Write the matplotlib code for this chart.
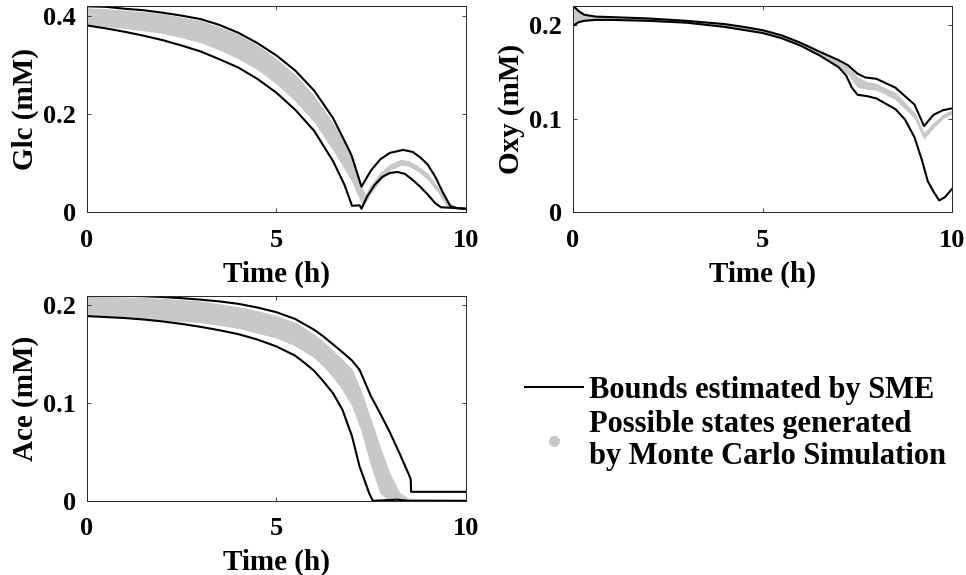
import matplotlib
matplotlib.use("Agg")
import matplotlib.pyplot as plt
from matplotlib.lines import Line2D

plt.rcParams['font.family'] = ['Liberation Serif', 'DejaVu Serif']
plt.rcParams['font.weight'] = 'bold'
plt.rcParams['axes.labelweight'] = 'bold'

# ---- Glc ----
glc_up_t = [0, 0.5, 1, 1.5, 2, 2.5, 3, 3.5, 4, 4.5, 5, 5.5, 6, 6.5, 6.94, 7.0, 7.25, 7.5, 7.75, 8.0, 8.35, 8.6, 8.8, 9.0, 9.2, 9.4, 9.6, 9.8, 10]
glc_up = [0.420, 0.419, 0.415, 0.412, 0.407, 0.401, 0.394, 0.382, 0.366, 0.345, 0.320, 0.289, 0.248, 0.192, 0.124, 0.113, 0.052, 0.085, 0.108, 0.121, 0.127, 0.123, 0.112, 0.097, 0.072, 0.040, 0.012, 0.008, 0.007]
glc_lo_t = [0, 0.5, 1, 1.5, 2, 2.5, 3, 3.5, 4, 4.5, 5, 5.5, 6, 6.5, 6.8, 7.0, 7.2, 7.25, 7.4, 7.6, 7.8, 8.0, 8.2, 8.4, 8.6, 8.8, 9.0, 9.2, 9.35, 9.6, 10]
glc_lo = [0.381, 0.375, 0.368, 0.360, 0.351, 0.340, 0.328, 0.312, 0.295, 0.272, 0.244, 0.209, 0.166, 0.104, 0.056, 0.013, 0.014, 0.007, 0.032, 0.056, 0.072, 0.080, 0.082, 0.078, 0.066, 0.052, 0.036, 0.018, 0.010, 0.009, 0.007]
glc_mc_t = [0, 0.5, 1, 1.5, 2, 2.5, 3, 3.5, 4, 4.5, 5, 5.5, 6, 6.5, 7.0, 7.25, 7.35, 7.5, 7.75, 8.0, 8.3, 8.5, 8.75, 9.0, 9.25, 9.5, 9.75, 10]
glc_mc_lo = [0.384, 0.380, 0.376, 0.371, 0.366, 0.357, 0.347, 0.332, 0.314, 0.292, 0.263, 0.228, 0.185, 0.128, 0.064, 0.020, 0.020, 0.040, 0.066, 0.087, 0.097, 0.095, 0.084, 0.068, 0.044, 0.014, 0.008, 0.007]
glc_mc_hi = [0.416, 0.414, 0.411, 0.408, 0.404, 0.397, 0.390, 0.377, 0.362, 0.340, 0.312, 0.280, 0.236, 0.180, 0.112, 0.050, 0.035, 0.055, 0.080, 0.097, 0.107, 0.104, 0.093, 0.078, 0.052, 0.022, 0.010, 0.008]

# ---- Oxy ----
oxy_up_t = [0, 0.15, 0.3, 0.6, 1, 2, 3, 4, 4.5, 5, 5.5, 6, 6.5, 7, 7.25, 7.5, 7.7, 8, 8.5, 9, 9.25, 9.5, 9.75, 10]
oxy_up = [0.221, 0.215, 0.211, 0.209, 0.2085, 0.207, 0.2045, 0.201, 0.198, 0.1945, 0.189, 0.181, 0.1715, 0.1625, 0.157, 0.148, 0.144, 0.1425, 0.133, 0.115, 0.092, 0.104, 0.109, 0.111]
oxy_lo_t = [0, 0.15, 0.3, 0.6, 1, 2, 3, 4, 5, 5.5, 6, 6.5, 7, 7.2, 7.35, 7.5, 7.75, 8, 8.5, 8.75, 9, 9.2, 9.35, 9.5, 9.65, 9.8, 10]
oxy_lo = [0.199, 0.203, 0.2045, 0.2055, 0.2055, 0.2045, 0.2025, 0.198, 0.1915, 0.186, 0.178, 0.1675, 0.155, 0.146, 0.133, 0.1255, 0.124, 0.1215, 0.110, 0.099, 0.080, 0.055, 0.033, 0.022, 0.0125, 0.016, 0.0255]
oxy_mc_t = [0, 0.15, 0.3, 0.6, 1, 2, 3, 4, 5, 6, 6.5, 7, 7.25, 7.5, 7.75, 8, 8.5, 9, 9.25, 9.5, 9.75, 10]
oxy_mc_lo = [0.201, 0.204, 0.2055, 0.206, 0.206, 0.205, 0.203, 0.1985, 0.192, 0.1785, 0.168, 0.156, 0.148, 0.134, 0.132, 0.131, 0.121, 0.101, 0.079, 0.091, 0.101, 0.106]
oxy_mc_hi = [0.219, 0.214, 0.210, 0.2085, 0.208, 0.2065, 0.204, 0.2005, 0.194, 0.1805, 0.171, 0.161, 0.155, 0.144, 0.139, 0.137, 0.127, 0.106, 0.084, 0.095, 0.104, 0.109]

# ---- Ace ----
ace_up_t = [0, 0.5, 1, 1.5, 2, 2.5, 3, 3.5, 4, 4.5, 5, 5.5, 6, 6.25, 6.5, 6.75, 7, 7.2, 7.5, 7.75, 8, 8.25, 8.5, 8.55, 8.56, 10]
ace_up = [0.2095, 0.2098, 0.2098, 0.2093, 0.2085, 0.2073, 0.2058, 0.204, 0.2015, 0.1978, 0.193, 0.186, 0.175, 0.168, 0.160, 0.152, 0.1435, 0.134, 0.107, 0.089, 0.070, 0.049, 0.027, 0.022, 0.0092, 0.0092]
ace_lo_t = [0, 0.5, 1, 1.5, 2, 2.5, 3, 3.5, 4, 4.5, 5, 5.5, 5.75, 6, 6.25, 6.5, 6.75, 7.0, 7.2, 7.3, 7.45, 7.55, 8.2, 8.5, 10]
ace_lo = [0.189, 0.188, 0.187, 0.1855, 0.1835, 0.181, 0.178, 0.1745, 0.1705, 0.165, 0.158, 0.1485, 0.141, 0.133, 0.122, 0.110, 0.093, 0.066, 0.035, 0.0245, 0.008, 0.0, 0.0012, 0.0, 0.0]
ace_mc_t = [0, 0.5, 1, 1.5, 2, 2.5, 3, 3.5, 4, 4.5, 5, 5.5, 6, 6.25, 6.5, 6.75, 7, 7.25, 7.5, 7.75, 8, 8.25, 8.5, 10]
ace_mc_lo = [0.191, 0.190, 0.189, 0.187, 0.185, 0.184, 0.183, 0.180, 0.177, 0.172, 0.167, 0.159, 0.147, 0.138, 0.127, 0.114, 0.098, 0.072, 0.037, 0.008, 0.0, 0.0, 0.0, 0.0]
ace_mc_hi = [0.2085, 0.2083, 0.208, 0.2073, 0.2065, 0.2053, 0.204, 0.201, 0.198, 0.194, 0.189, 0.182, 0.170, 0.162, 0.153, 0.144, 0.134, 0.110, 0.082, 0.053, 0.027, 0.008, 0.002, 0.001]

gray = '#c8c8c8'
fig = plt.figure(figsize=(9.66, 5.75), dpi=100)

ax1 = fig.add_axes([0.090, 0.631, 0.392, 0.358])
ax2 = fig.add_axes([0.593, 0.631, 0.393, 0.358])
ax3 = fig.add_axes([0.090, 0.129, 0.392, 0.357])

panels = [
    (ax1, glc_mc_t, glc_mc_lo, glc_mc_hi, glc_up_t, glc_up, glc_lo_t, glc_lo, 'Glc (mM)', 0.42, [0, 0.2, 0.4]),
    (ax2, oxy_mc_t, oxy_mc_lo, oxy_mc_hi, oxy_up_t, oxy_up, oxy_lo_t, oxy_lo, 'Oxy (mM)', 0.22, [0, 0.1, 0.2]),
    (ax3, ace_mc_t, ace_mc_lo, ace_mc_hi, ace_up_t, ace_up, ace_lo_t, ace_lo, 'Ace (mM)', 0.21, [0, 0.1, 0.2]),
]

for ax, mt, mlo, mhi, ut, u, lt, l, lab, ymax, yt in panels:
    ax.fill_between(mt, mlo, mhi, color=gray, lw=0.8, edgecolor=gray)
    ax.plot(ut, u, color='k', lw=1.5)
    ax.plot(lt, l, color='k', lw=1.5)
    ax.set_xlim(0, 10)
    ax.set_ylim(0, ymax)
    ax.set_xticks([0, 5, 10])
    ax.set_yticks(yt)
    ax.set_yticklabels(['0'] + [str(v) for v in yt[1:]])
    ax.tick_params(direction='in', length=3, width=0.6, top=True, right=True,
                   labelsize=19, color='#262626')
    ax.tick_params(axis='x', pad=12)
    ax.tick_params(axis='y', pad=8)
    for s in ax.spines.values():
        s.set_color('#262626')
        s.set_linewidth(0.7)
    ax.set_xlabel('Time (h)', fontsize=21, labelpad=6)
    ax.set_ylabel(lab, fontsize=21, labelpad=3)

handles = [Line2D([], [], color='k', lw=1.5),
           Line2D([], [], color=gray, marker='o', ls='none', markersize=7)]
leg = fig.legend(handles, ['Bounds estimated by SME',
                           'Possible states generated\nby Monte Carlo Simulation'],
                 loc='upper left', bbox_to_anchor=(525 / 966, 1 - 376 / 575),
                 frameon=False, fontsize=22, handlelength=1.9, handletextpad=0.2,
                 labelspacing=0.15, borderpad=0, borderaxespad=0)
for t in leg.get_texts():
    t.set_linespacing(1.15)

fig.savefig('out.png', dpi=100)
